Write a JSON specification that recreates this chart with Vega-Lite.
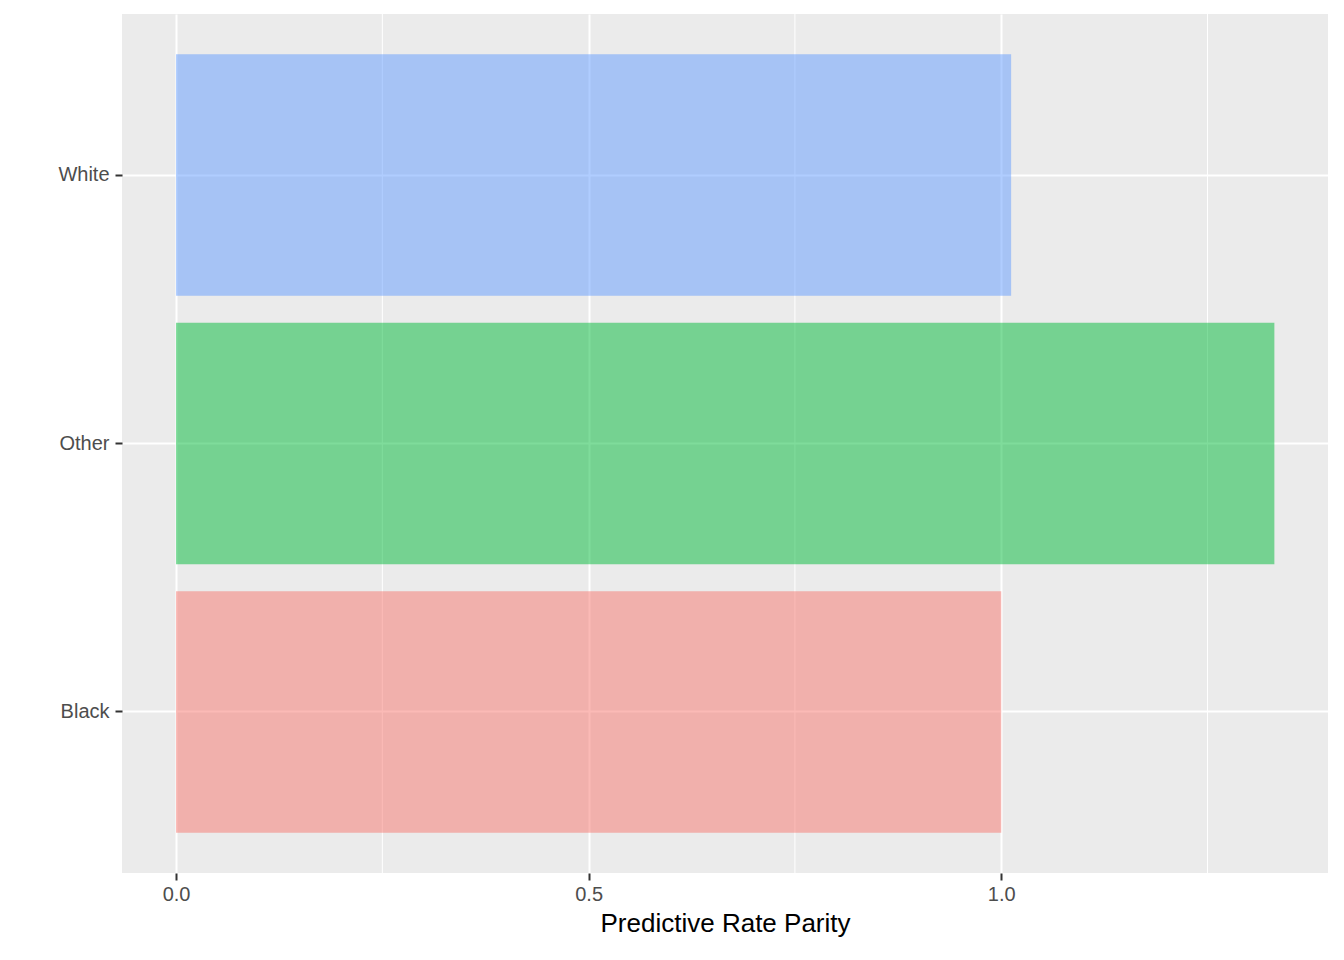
{
  "$schema": "https://vega.github.io/schema/vega-lite/v6.json",
  "width": 1206,
  "height": 859,
  "autosize": {"type": "none"},
  "padding": {"left": 122, "top": 14, "right": 16, "bottom": 87},
  "background": "white",
  "config": {
    "view": {"fill": "#EBEBEB", "stroke": null},
    "axis": {"domain": false, "gridColor": "white", "gridWidth": 2, "tickColor": "#333333", "tickSize": 7, "tickWidth": 2, "labelColor": "#4D4D4D", "labelFont": "Liberation Sans", "labelFontSize": 20, "titleFont": "Liberation Sans", "titleFontSize": 26, "titleFontWeight": "normal", "titleColor": "black"}
  },
  "datasets": {
    "bars": [
      {"race": "Black", "parity": 1.0},
      {"race": "Other", "parity": 1.331},
      {"race": "White", "parity": 1.012}
    ],
    "minor": [{"v": 0.25}, {"v": 0.75}, {"v": 1.25}]
  },
  "layer": [
    {
      "data": {"name": "minor"},
      "mark": {"type": "rule", "color": "white", "strokeWidth": 1},
      "encoding": {"x": {"field": "v", "type": "quantitative", "scale": {"domain": [-0.0655, 1.396], "nice": false, "zero": false}}}
    },
    {
      "data": {"name": "bars"},
      "mark": {"type": "bar", "opacity": 0.5},
      "encoding": {
        "y": {"field": "race", "type": "nominal", "sort": ["White", "Other", "Black"], "scale": {"paddingInner": 0.1, "paddingOuter": 0.15},
          "axis": {"title": null, "grid": true, "bandPosition": 0.5, "labelPadding": 6}},
        "x": {"field": "parity", "type": "quantitative", "scale": {"domain": [-0.0655, 1.396], "nice": false, "zero": false},
          "axis": {"title": "Predictive Rate Parity", "values": [0, 0.5, 1.0], "format": ".1f", "grid": true, "labelPadding": 4, "titlePadding": 6}},
        "color": {"field": "race", "type": "nominal", "scale": {"domain": ["Black", "Other", "White"], "range": ["#F8766D", "#00BA38", "#619CFF"]}, "legend": null}
      }
    }
  ]
}
